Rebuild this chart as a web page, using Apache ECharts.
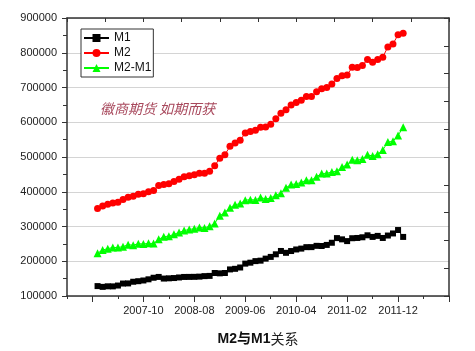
<!DOCTYPE html>
<html>
<head>
<meta charset="utf-8">
<script src="https://cdn.jsdelivr.net/npm/echarts@6/dist/echarts.min.js"></script>
<style>
  html, body { margin: 0; padding: 0; background: #fff; }
  #main { width: 475px; height: 351px; }
</style>
</head>
<body>
<div id="main"></div>
<script>
// 月份轴 2006-07 ~ 2012-10
const axisMonths = [];
for (let y = 2006, m = 7; y < 2012 || (y === 2012 && m <= 10); m++) {
  if (m > 12) { m = 1; y++; }
  axisMonths.push(y + '-' + (m < 10 ? '0' + m : m));
}
// 数据月份 2007-01 ~ 2012-01
const dataMonths = axisMonths.slice(6, 67);

// 单位：亿元
const m1 = [
  128484, 126258, 127882, 127703, 130106, 135847, 136237, 140993, 142592, 144649, 148009, 152519,
  154872, 150181, 150867, 151694, 153344, 154820, 154948, 155135, 155748, 157195, 157826, 166217,
  165214, 166149, 176490, 178214, 182025, 193138, 195889, 200394, 201708, 207545, 212493, 220002,
  229589, 224286, 229397, 233904, 236402, 240580, 240664, 244340, 243822, 247000, 253200, 266622,
  263000, 258000, 266255, 267000, 269000, 274663, 270000, 273000, 267000, 274000, 280000, 289848,
  270010
];
const m2 = [
  351498, 358659, 364104, 367326, 369718, 377832, 383885, 387205, 393099, 394204, 399757, 403442,
  417846, 421037, 423054, 429313, 436221, 443141, 446362, 448846, 452898, 453133, 458644, 475167,
  496135, 506708, 530627, 540481, 548263, 568916, 573102, 576699, 585405, 586643, 594604, 610225,
  625609, 636073, 649947, 656561, 663351, 673922, 674051, 687507, 696471, 699777, 710340, 725852,
  733885, 736131, 758131, 757385, 763410, 780821, 772923, 780853, 787406, 816829, 825494, 851591,
  855898
];
const m2m1 = [
  223014, 232401, 236222, 239623, 239612, 241985, 247648, 246212, 250507, 249555, 251748, 250923,
  262974, 270856, 272187, 277619, 282877, 288321, 291414, 293711, 297150, 295938, 300818, 308950,
  330921, 340559, 354137, 362267, 366238, 375778, 377213, 376305, 383697, 379098, 382111, 390223,
  396020, 411787, 420550, 422657, 426949, 433342, 433387, 443167, 452649, 452777, 457140, 459230,
  470885, 478131, 491876, 490385, 494410, 506158, 502923, 507853, 520406, 542829, 545494, 561743,
  585888
];
const labelMonths = ['2007-10', '2008-08', '2009-06', '2010-04', '2011-02', '2011-12'];

const chart = echarts.init(document.getElementById('main'));
const axisColor = '#333';

const pair = (arr) => dataMonths.map((m, i) => [m, arr[i]]);

const option = {
  animation: false,
  textStyle: { fontFamily: 'Liberation Sans, Arial, sans-serif' },
  grid: { left: 67, right: 26, top: 18, bottom: 52 },
  legend: {
    orient: 'vertical',
    left: 81,
    top: 29,
    padding: [3, 2, 3, 2],
    itemGap: 3,
    itemWidth: 25,
    itemHeight: 10,
    borderColor: '#333',
    borderWidth: 1,
    backgroundColor: '#fff',
    textStyle: { fontSize: 12, color: '#111' },
    data: ['M1', 'M2', 'M2-M1']
  },
  xAxis: [
    {
      type: 'category',
      data: axisMonths,
      boundaryGap: false,
      position: 'bottom',
      axisLine: { lineStyle: { color: axisColor, width: 1.5 } },
      axisTick: {
        length: 6,
        lineStyle: { color: axisColor },
        interval: (idx) => idx % 10 === 5
      },
      axisLabel: {
        interval: (idx, val) => labelMonths.indexOf(val) >= 0,
        color: '#222',
        fontSize: 11,
        margin: 9
      },
      splitLine: { show: false },
      name: '{b|M2与M1}{n|关系}',
      nameLocation: 'middle',
      nameGap: 36,
      nameTextStyle: {
        rich: {
          b: { fontSize: 14, fontWeight: 'bold', color: '#111', fontFamily: 'Liberation Sans, Noto Sans CJK SC' },
          n: { fontSize: 14, color: '#222', fontFamily: 'Noto Sans CJK SC' }
        }
      }
    },
    {
      type: 'value',
      position: 'top',
      min: 0,
      max: 10,
      interval: 1,
      axisLine: { show: true, lineStyle: { color: axisColor, width: 1.5 } },
      axisTick: { show: true, inside: true, length: 4, lineStyle: { color: axisColor } },
      axisLabel: { show: false },
      splitLine: { show: false }
    },
    {
      type: 'category',
      data: axisMonths,
      boundaryGap: false,
      position: 'bottom',
      axisLine: { show: false },
      axisTick: {
        length: 3,
        lineStyle: { color: axisColor },
        interval: (idx) => idx % 10 === 0
      },
      axisLabel: { show: false },
      splitLine: { show: false }
    }
  ],
  yAxis: [
    {
      type: 'value',
      min: 100000,
      max: 900000,
      interval: 100000,
      axisLine: { show: true, lineStyle: { color: axisColor, width: 1.5 } },
      axisTick: { show: true, length: 5, lineStyle: { color: axisColor } },
      minorTick: { show: true, splitNumber: 2, length: 4, lineStyle: { color: axisColor } },
      axisLabel: { color: '#222', fontSize: 11, margin: 10, formatter: (v) => String(v) },
      splitLine: { show: true, lineStyle: { color: '#d4d4d4', width: 1 } }
    },
    {
      type: 'value',
      position: 'right',
      min: 0,
      max: 10,
      interval: 1,
      axisLine: { show: true, lineStyle: { color: axisColor, width: 1.5 } },
      axisTick: { show: true, inside: true, length: 5, lineStyle: { color: axisColor } },
      axisLabel: { show: false },
      splitLine: { show: false }
    }
  ],
  graphic: [
    {
      type: 'text',
      left: 100,
      top: 102,
      style: {
        text: '徽商期货 如期而获',
        fill: '#a8485c',
        font: 'italic 14px "Noto Sans CJK SC"'
      }
    }
  ],
  series: [
    {
      name: 'M1',
      type: 'line',
      data: pair(m1),
      showAllSymbol: true,
      symbol: 'rect',
      symbolSize: 6,
      itemStyle: { color: '#000' },
      lineStyle: { color: '#000', width: 1 }
    },
    {
      name: 'M2',
      type: 'line',
      data: pair(m2),
      showAllSymbol: true,
      symbol: 'circle',
      symbolSize: 7,
      itemStyle: { color: '#ff0000' },
      lineStyle: { color: '#ff0000', width: 1 }
    },
    {
      name: 'M2-M1',
      type: 'line',
      data: pair(m2m1),
      showAllSymbol: true,
      symbol: 'triangle',
      symbolSize: 8,
      itemStyle: { color: '#00ff00' },
      lineStyle: { color: '#00ff00', width: 1 }
    }
  ]
};

chart.setOption(option);
</script>
</body>
</html>
